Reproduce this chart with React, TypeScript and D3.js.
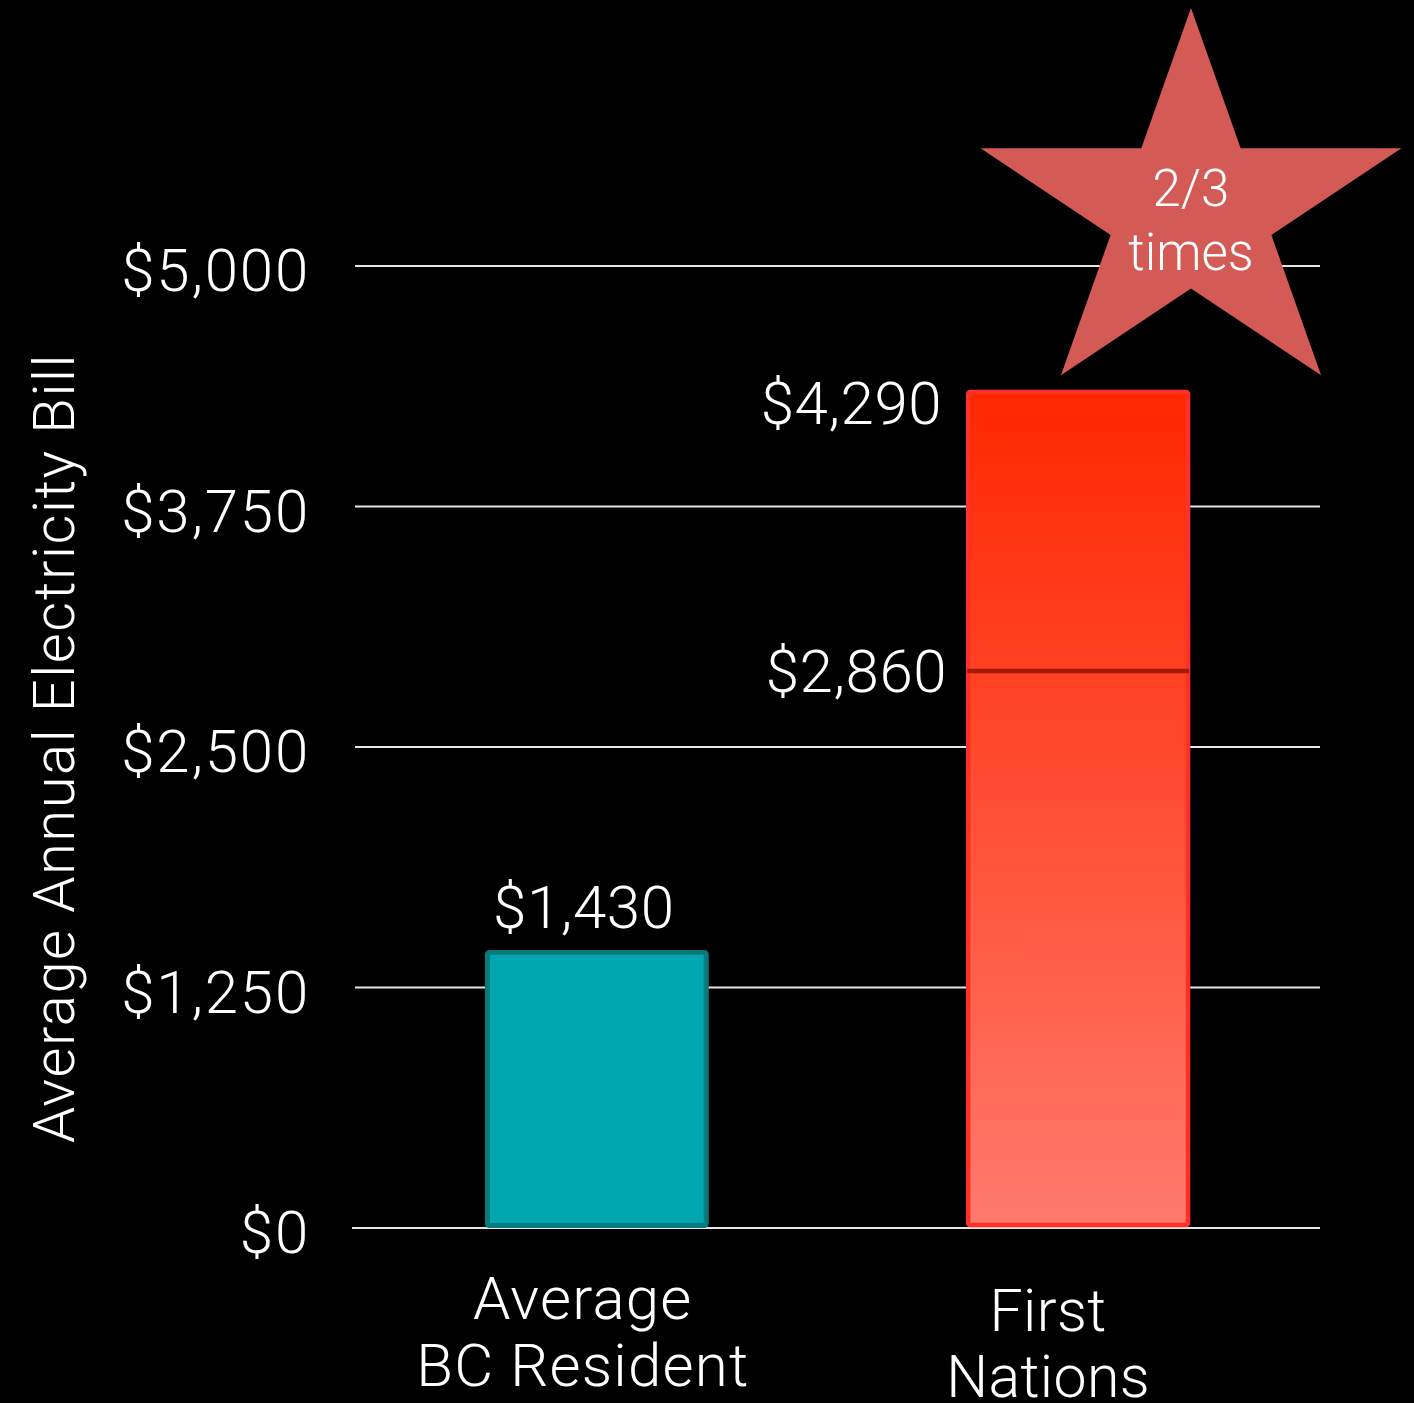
import * as d3 from "d3";

const categories = ["Average BC Resident", "First Nations"];
const categoryLines = [["Average", "BC Resident"], ["First", "Nations"]];
const barValues = [1440, 4350];
const barLabels = ["$1,430", "$4,290"];
const dividerValue = 2890;
const dividerLabel = "$2,860";
const tickValues = [0, 1250, 2500, 3750, 5000];
const starText = ["2/3", "times"];
const yTitle = "Average Annual Electricity Bill";

const W = 1414;
const H = 1403;
const FONT = "Roboto, 'Helvetica Neue', Helvetica, Arial, sans-serif";

export default function App() {
  const y = d3.scaleLinear().domain([0, 5000]).range([1227, 265]);
  const x = d3
    .scaleBand<string>()
    .domain(categories)
    .range([355, 1320])
    .paddingInner(0.535)
    .paddingOuter(0.27);
  const bw = x.bandwidth();
  const fmt = (d: number) => "$" + d3.format(",")(d);

  // star: regular 5 points, slightly stretched sideways
  const cx = 1191;
  const cy = 211;
  const R = 203;
  const r = R * 0.382;
  const sx = 1.09;
  const starPts: [number, number][] = d3.range(10).map((i) => {
    const a = (i * Math.PI) / 5;
    const rad = i % 2 === 0 ? R : r;
    return [cx + Math.sin(a) * rad * sx, cy - Math.cos(a) * rad];
  });
  const starPath = d3.line()(starPts) + "Z";

  const tealX = x(categories[0])!;
  const redX = x(categories[1])!;

  return (
    <svg
      width={W}
      height={H}
      style={{ position: "absolute", left: 0, top: 0, background: "#000" }}
      fontFamily={FONT}
      fontWeight={300}
    >
      <defs>
        <linearGradient id="redGrad" x1="0" y1="0" x2="0" y2="1">
          <stop offset="0%" stopColor="#ff2800" />
          <stop offset="45%" stopColor="#ff4a2e" />
          <stop offset="100%" stopColor="#ff7a6c" />
        </linearGradient>
      </defs>
      <rect width={W} height={H} fill="#000" />

      {/* gridlines */}
      {tickValues.map((t) => (
        <line
          key={t}
          x1={t === 0 ? 352 : 355}
          x2={1320}
          y1={y(t) + 1}
          y2={y(t) + 1}
          stroke="#e6e6e6"
          strokeWidth={2.2}
        />
      ))}

      {/* tick labels */}
      {tickValues.map((t) => (
        <text
          key={t}
          x={310}
          y={y(t) + 26}
          textAnchor="end"
          fill="#fff"
          fontSize={60}
          letterSpacing={1.8}
        >
          {fmt(t)}
        </text>
      ))}

      {/* y title */}
      <text
        transform={`translate(74,${748}) rotate(-90)`}
        textAnchor="middle"
        fill="#fff"
        fontSize={58}
        letterSpacing={1.5}
      >
        {yTitle}
      </text>

      {/* teal bar */}
      <rect
        x={tealX + 2.5}
        y={y(barValues[0]) + 2.5}
        width={bw - 5}
        height={y(0) - y(barValues[0]) - 4}
        fill="#00a6b0"
        stroke="#077a7c"
        strokeWidth={5}
        rx={2}
      />

      {/* red bar */}
      <rect
        x={redX + 2}
        y={y(barValues[1]) + 2}
        width={bw - 4}
        height={y(0) - y(barValues[1]) - 4}
        fill="url(#redGrad)"
        stroke="#ff3028"
        strokeWidth={4.5}
        rx={2}
      />
      <line
        x1={redX + 1}
        x2={redX + bw - 1}
        y1={y(dividerValue)}
        y2={y(dividerValue)}
        stroke="#a51808"
        strokeWidth={4.5}
      />

      {/* value labels */}
      <text x={tealX + bw / 2 - 13} y={y(barValues[0]) - 22} textAnchor="middle" fill="#fff" fontSize={60} letterSpacing={0.6}>
        {barLabels[0]}
      </text>
      <text x={redX - 24} y={y(barValues[1]) + 34} textAnchor="end" fill="#fff" fontSize={60} letterSpacing={0.6}>
        {barLabels[1]}
      </text>
      <text x={redX - 19} y={y(dividerValue) + 21} textAnchor="end" fill="#fff" fontSize={60} letterSpacing={0.6}>
        {dividerLabel}
      </text>

      {/* category labels */}
      {categoryLines[0].map((s, i) => (
        <text key={s} x={tealX + bw / 2 - 14} y={1319 + i * 67} textAnchor="middle" fill="#fff" fontSize={60} letterSpacing={1.2}>
          {s}
        </text>
      ))}
      {categoryLines[1].map((s, i) => (
        <text key={s} x={redX + bw / 2 - 30} y={1331 + i * 66} textAnchor="middle" fill="#fff" fontSize={59} letterSpacing={0.4}>
          {s}
        </text>
      ))}

      {/* star */}
      <path d={starPath} fill="#d45a56" />
      {starText.map((s, i) => (
        <text key={s} x={cx} y={206 + i * 64} textAnchor="middle" fill="#fff" fontSize={51}>
          {s}
        </text>
      ))}
    </svg>
  );
}
